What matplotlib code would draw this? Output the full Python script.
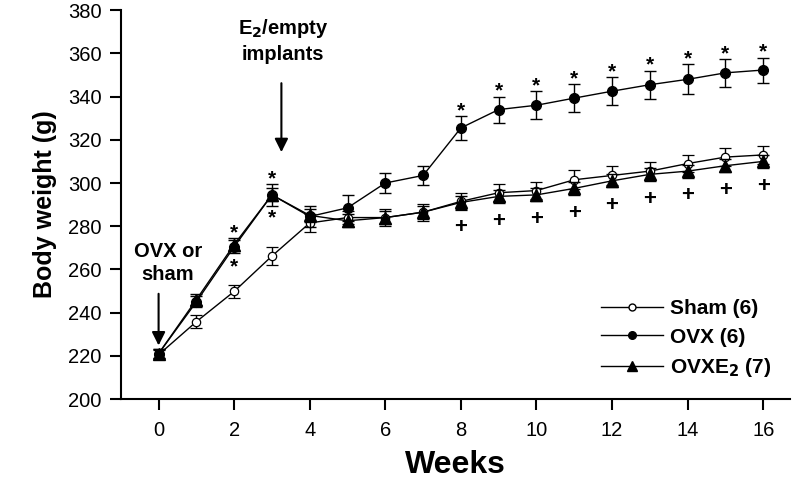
import matplotlib
matplotlib.use("Agg")
import matplotlib.pyplot as plt
from matplotlib.lines import Line2D
import numpy as np

plt.rcParams['font.family'] = ['Liberation Sans', 'DejaVu Sans']

weeks = list(range(17))
sham = [220.5, 235.8, 249.8, 266.2, 281.5, 284.0, 284.0, 286.5, 291.5, 295.5, 296.5, 301.5, 303.5, 305.5, 309.0, 312.0, 313.0]
sham_err = [2, 3, 3, 4, 4, 3, 4, 4, 4, 4, 4, 4.5, 4.5, 4, 4, 4, 4]
ovx = [221.0, 245.0, 270.5, 294.5, 284.5, 288.5, 300.0, 303.5, 325.5, 334.0, 336.0, 339.3, 342.5, 345.5, 348.0, 351.0, 352.3]
ovx_err = [2, 2.5, 3, 5, 5, 6, 4.5, 4.5, 5.5, 6, 6.5, 6.5, 6.5, 6.5, 7, 6.5, 5.8]
ovxe2 = [221.0, 246.0, 271.5, 294.5, 285.0, 282.5, 284.0, 286.5, 291.0, 293.8, 294.5, 297.5, 301.0, 304.0, 305.5, 308.0, 310.0]
ovxe2_err = [2, 2.5, 3, 3, 3, 3, 3, 3, 3, 3, 3, 3, 3, 3, 3, 3, 3]

star_weeks = [2, 3, 8, 9, 10, 11, 12, 13, 14, 15, 16]
star_below_weeks = [2, 3]
plus_weeks = [8, 9, 10, 11, 12, 13, 14, 15, 16]

legend_labels = ['Sham (6)', 'OVX (6)', 'OVXE$_\\mathbf{2}$ (7)']

fig = plt.figure(figsize=(8, 4.86), dpi=100)
ax = fig.add_axes([0.151, 0.179, 0.837, 0.800])

common = dict(color='black', lw=1.0, capsize=4.5, elinewidth=1.0, capthick=1.0)
ax.errorbar(weeks, sham, yerr=sham_err, fmt='-o', mfc='white', mec='black', ms=6, mew=0.9, **common, zorder=3)
ax.errorbar(weeks, ovx, yerr=ovx_err, fmt='-o', mfc='black', mec='black', ms=7, **common, zorder=4)
ax.errorbar(weeks, ovxe2, yerr=ovxe2_err, fmt='-^', mfc='black', mec='black', ms=9, **common, zorder=5)

# significance markers
for w in star_weeks:
    top = max(ovx[w] + ovx_err[w], ovxe2[w] + ovxe2_err[w]) if w in star_below_weeks else ovx[w] + ovx_err[w]
    ax.text(w, top + 2.5, '*', ha='center', va='center', fontsize=15, fontweight='bold')
for w in star_below_weeks:
    ax.text(w, ovxe2[w] - 10.5, '*', ha='center', va='center', fontsize=15, fontweight='bold')
for w in plus_weeks:
    ax.text(w, ovxe2[w] - 11.5, '+', ha='center', va='center', fontsize=16, fontweight='bold')

# annotations
ax.text(0.24, 263, 'OVX or\nsham', ha='center', va='center', fontsize=14.5, fontweight='bold', linespacing=1.3)
ax.annotate('', xy=(0, 223.5), xytext=(0, 250),
            arrowprops=dict(arrowstyle='-|>', color='black', lw=1.5, mutation_scale=20))
ax.text(3.3, 366, 'E$_\\mathbf{2}$/empty\nimplants', ha='center', va='center', fontsize=14.5, fontweight='bold', linespacing=1.3)
ax.annotate('', xy=(3.25, 313), xytext=(3.25, 347.5),
            arrowprops=dict(arrowstyle='-|>', color='black', lw=1.5, mutation_scale=20))

ax.set_xlim(-1, 16.72)
ax.set_ylim(200, 380)
ax.set_xticks(range(0, 17, 2))
ax.set_yticks(range(200, 381, 20))
ax.tick_params(axis='both', direction='out', length=8, width=1.5, labelsize=14.5, colors='black')
ax.tick_params(axis='y', pad=6)
ax.tick_params(axis='x', pad=8)
for s in ['top', 'right']:
    ax.spines[s].set_visible(False)
for s in ['left', 'bottom']:
    ax.spines[s].set_linewidth(1.5)

ax.set_xlabel('Weeks', fontsize=23, fontweight='bold', labelpad=7)
ax.set_ylabel('Body weight (g)', fontsize=18, fontweight='bold', labelpad=8)

handles = [
    Line2D([], [], color='black', lw=1.0, marker='o', mfc='white', mec='black', ms=5),
    Line2D([], [], color='black', lw=1.0, marker='o', mfc='black', mec='black', ms=5.5),
    Line2D([], [], color='black', lw=1.0, marker='^', mfc='black', mec='black', ms=7),
]
leg = ax.legend(handles, legend_labels, loc='lower right', bbox_to_anchor=(1.0, 0.003),
                frameon=False, prop={'weight': 'bold', 'size': 15}, handlelength=3.0,
                labelspacing=0.45, handletextpad=0.35)

fig.savefig('out.png', dpi=100)
